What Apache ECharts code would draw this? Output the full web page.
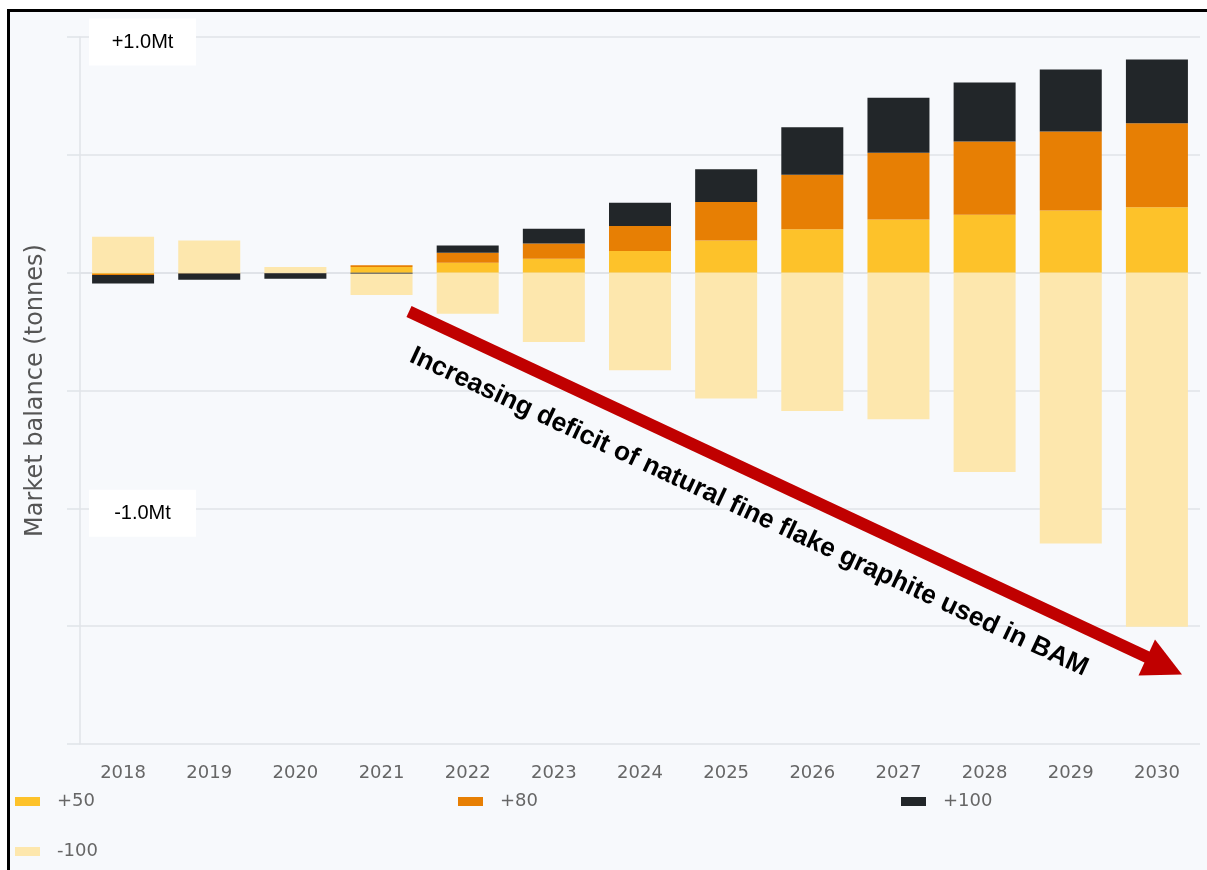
<!DOCTYPE html>
<html>
<head>
<meta charset="utf-8">
<script src="https://cdn.jsdelivr.net/npm/echarts@6/dist/echarts.min.js"></script>
<style>
  html, body { margin: 0; padding: 0; background: #ffffff; overflow: hidden; }
  #frame { position: absolute; left: 7px; top: 9px; width: 1400px; height: 1000px;
           border: 3px solid #000; background: #f7f9fc; }
  #chart { position: absolute; left: 0; top: 0; width: 1207px; height: 870px; }
</style>
</head>
<body>
<div id="frame"></div>
<div id="chart"></div>
<script>
// Market balance, thousand tonnes (kt)
const years = ['2018','2019','2020','2021','2022','2023','2024','2025','2026','2027','2028','2029','2030'];
const plus50  = [-5, -2, -1, 24, 42, 59, 92, 136, 184, 226, 246, 264, 278];
const plus80  = [-5, -2, -1, 8, 42, 65, 106, 164, 232, 283, 311, 335, 356];
const plus100 = [-36, -26, -24, -5, 31, 62, 99, 139, 201, 233, 250, 263, 270];
const minus100 = [152, 137, 24, -90, -174, -294, -414, -534, -587, -622, -846, -1149, -1502];
const seriesNames = ['+50', '+80', '+100', '-100'];
const yTickLabels = { '1000': '+1.0Mt', '-1000': '-1.0Mt' };
const yAxisName = 'Market balance (tonnes)';
const annotation = 'Increasing deficit of natural fine flake graphite used in BAM';

const colors = ['#fdc22a', '#e77f04', '#222629', '#fde7ad'];
const gridColor = '#e0e3e8';
const uiFont = '"DejaVu Sans", sans-serif';

const chart = echarts.init(document.getElementById('chart'), null, { renderer: 'canvas' });

const seriesData = [plus50, plus80, plus100, minus100];
const series = seriesNames.map((n, i) => ({
  name: n,
  type: 'bar',
  stack: 'bal',
  barWidth: 62,
  data: seriesData[i],
  itemStyle: { color: colors[i] },
  emphasis: { disabled: true }
}));

chart.setOption({
  animation: false,
  backgroundColor: 'transparent',
  color: colors,
  grid: { left: 80, right: 7, top: 37, bottom: 126, containLabel: false },
  xAxis: {
    type: 'category',
    data: years,
    axisLine: { show: true, lineStyle: { color: gridColor, width: 2 } },
    axisTick: { show: false },
    axisLabel: { color: '#666', fontFamily: uiFont, fontSize: 18, margin: 20 }
  },
  yAxis: {
    type: 'value',
    min: -2000, max: 1000, interval: 500,
    name: yAxisName,
    nameLocation: 'middle',
    nameGap: 32,
    nameTextStyle: { color: '#555', fontFamily: uiFont, fontSize: 24 },
    axisLine: { show: true, lineStyle: { color: gridColor, width: 1.5 } },
    axisTick: { show: true, length: 13, lineStyle: { color: gridColor, width: 1.5 } },
    axisLabel: { show: false },
    splitLine: { show: true, lineStyle: { color: gridColor, width: 1.5 } }
  },
  legend: {
    left: 15, top: 777, width: 1340, padding: 0,
    itemWidth: 25, itemHeight: 9, itemGap: 1,
    icon: 'rect',
    data: seriesNames,
    selectedMode: false,
    textStyle: { color: '#666', fontFamily: uiFont, fontSize: 18, width: 400,
                 padding: [0, 0, 0, 12], lineHeight: 49 }
  },
  series: series
});

// annotations
const graphics = [];
Object.keys(yTickLabels).forEach(k => {
  const py = chart.convertToPixel({ yAxisIndex: 0 }, Number(k));
  graphics.push({
    type: 'rect', z: 50,
    shape: { x: 89, y: py - 18.5, width: 107, height: 47 },
    style: { fill: '#ffffff' }
  });
  graphics.push({
    type: 'text', z: 51,
    x: 142.5, y: py + 5.5,
    style: { text: yTickLabels[k], font: '20px "Liberation Sans", Arial, sans-serif',
             fill: '#000', align: 'center', verticalAlign: 'middle' }
  });
});
// red arrow
graphics.push({
  type: 'line', z: 60,
  shape: { x1: 409, y1: 311.5, x2: 1148, y2: 657.5 },
  style: { stroke: '#c00000', lineWidth: 12 }
});
graphics.push({
  type: 'polygon', z: 60,
  shape: { points: [[1182, 674.5], [1155, 639.5], [1138.5, 675.5]] },
  style: { fill: '#c00000' }
});
graphics.push({
  type: 'text', z: 61,
  x: 749, y: 512,
  rotation: -25 * Math.PI / 180,
  style: { text: annotation, font: 'bold 26.4px "Liberation Sans", Arial, sans-serif',
           fill: '#000', align: 'center', verticalAlign: 'middle' }
});
chart.setOption({ graphic: graphics });
</script>
</body>
</html>
